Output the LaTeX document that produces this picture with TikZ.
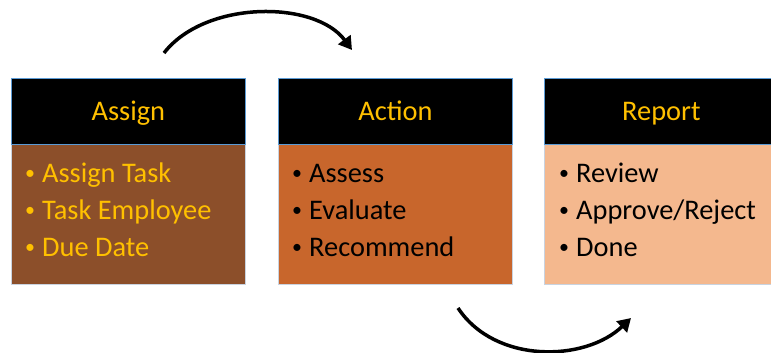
\documentclass[tikz,border=0pt]{standalone}
\usepackage{fontspec}
\setmainfont{Carlito}
\usetikzlibrary{arrows.meta}
\definecolor{gold}{HTML}{FFC000}
\definecolor{hdrline}{HTML}{5B9BD5}
\definecolor{bodyline}{HTML}{C9D3E0}
\definecolor{brownA}{HTML}{8C4F2A}
\definecolor{orangeB}{HTML}{C8662C}
\definecolor{peachC}{HTML}{F4B88E}
\tikzset{
  hdr/.style={draw=hdrline, line width=0.8bp, fill=black, text=gold, inner sep=0pt,
    minimum width=234bp, minimum height=66bp, anchor=north west,
    font=\fontsize{28.5}{32}\selectfont, text height=24bp, text depth=6bp},
  bodybox/.style={draw=bodyline, line width=0.8bp, inner sep=0pt,
    minimum width=234bp, minimum height=140bp, anchor=north west},
  item/.style={anchor=base west, inner sep=0pt, font=\fontsize{28.5}{32}\selectfont},
  flow/.style={line width=3.5bp, -{Triangle[length=13bp,width=15bp]}},
}
\newcommand{\bul}{\makebox[17bp][l]{\raisebox{3bp}{\fontsize{20}{20}\selectfont •}}}
\begin{document}
\begin{tikzpicture}[x=1bp,y=-1bp]
\useasboundingbox[fill=white] (0,0) rectangle (771,352);
% bodies
\node[bodybox, fill=brownA] (b1) at (11,144) {};
\node[bodybox, fill=orangeB] (b2) at (278,144) {};
\node[bodybox, fill=peachC] (b3) at (544,144) {};
% headers
\node[hdr] (h1) at (11,78) {Assign};
\node[hdr] (h2) at (278,78) {Action};
\node[hdr] (h3) at (544,78) {Report};
% items
\node[item, text=gold] (a1) at (25,182) {\bul Assign Task};
\node[item, text=gold] (a2) at (25,219) {\bul Task Employee};
\node[item, text=gold] (a3) at (25,256) {\bul Due Date};
\node[item] (c1) at (292,182) {\bul Assess};
\node[item] (c2) at (292,219) {\bul Evaluate};
\node[item] (c3) at (292,256) {\bul Recommend};
\node[item] (r1) at (559,182) {\bul Review};
\node[item] (r2) at (559,219) {\bul Approve/Reject};
\node[item] (r3) at (559,256) {\bul Done};
% arrows
\coordinate (t0) at (164,53);
\coordinate (t1) at (352,50);
\coordinate (u0) at (458,308);
\coordinate (u1) at (631,318);
\draw[flow] (t0) .. controls (205,0) and (315,0) .. (t1);
\draw[flow] (u0) .. controls (495,364) and (585,362) .. (u1);
\end{tikzpicture}
\end{document}
